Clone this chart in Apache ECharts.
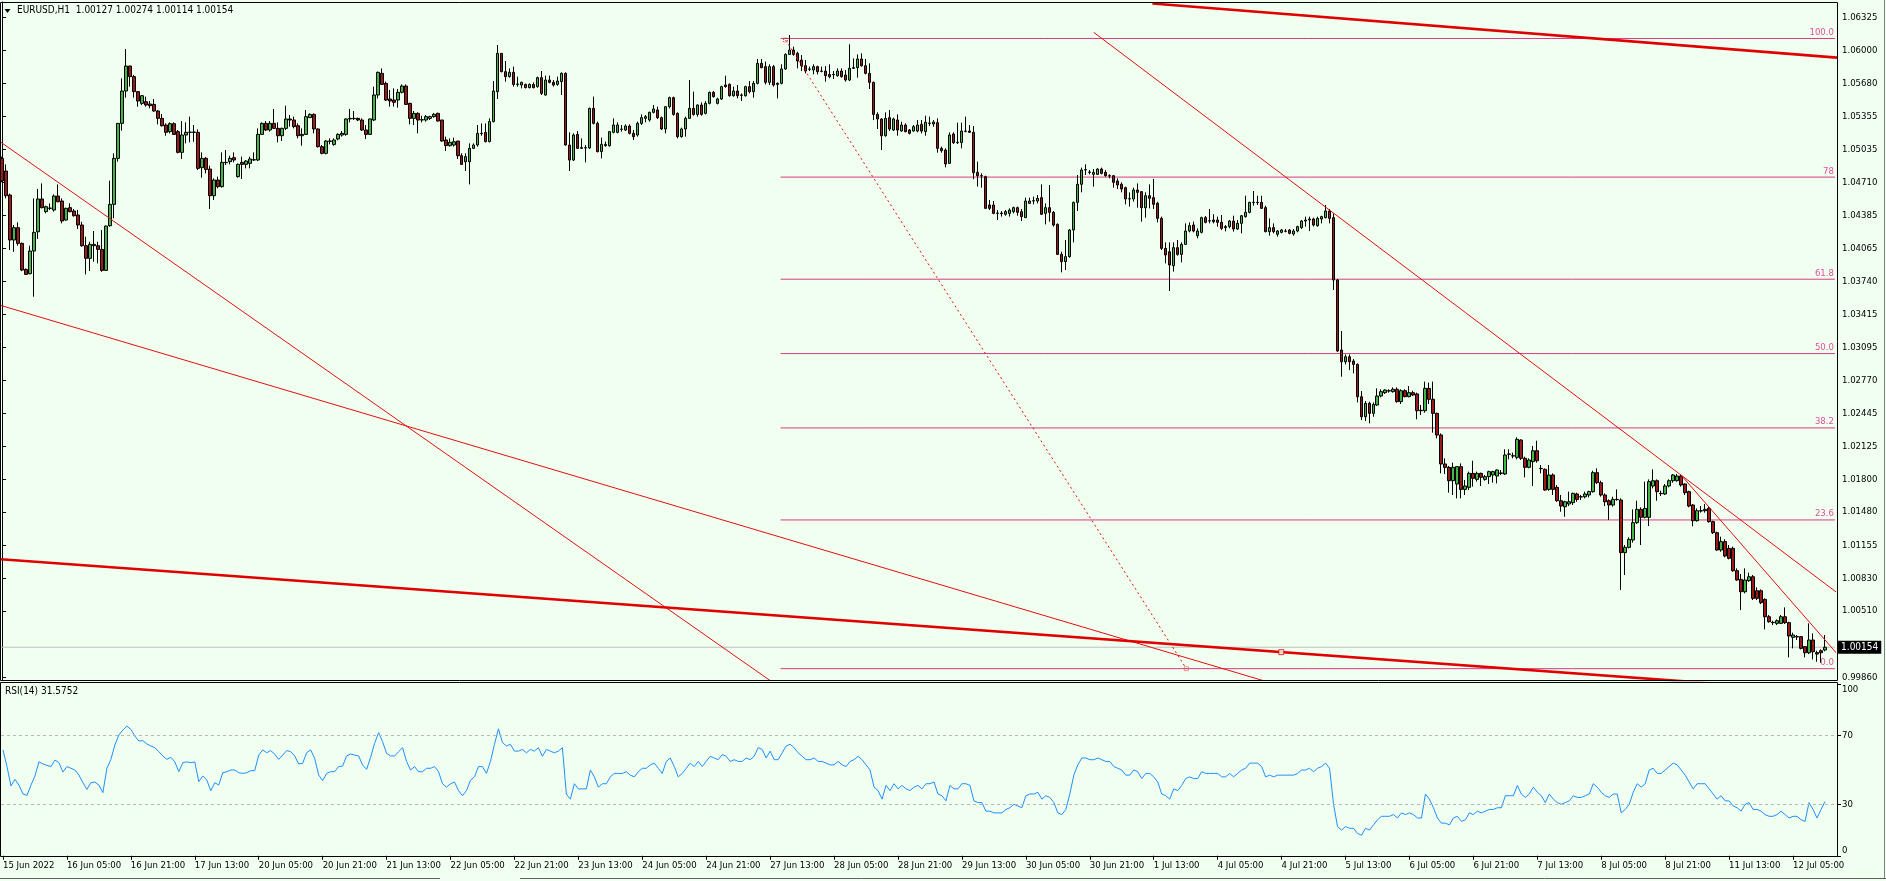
<!DOCTYPE html>
<html><head><meta charset="utf-8">
<script src="https://cdn.jsdelivr.net/npm/echarts@6/dist/echarts.min.js"></script>
<style>html,body{margin:0;padding:0;background:#f0fff0;}#c{width:1886px;height:881px;}</style>
</head><body><div id="c"></div>
<script>
const symbolName = 'EURUSD,H1';
const xLabels = ['15 Jun 2022','16 Jun 05:00','16 Jun 21:00','17 Jun 13:00','20 Jun 05:00','20 Jun 21:00','21 Jun 13:00','22 Jun 05:00','22 Jun 21:00','23 Jun 13:00','24 Jun 05:00','24 Jun 21:00','27 Jun 13:00','28 Jun 05:00','28 Jun 21:00','29 Jun 13:00','30 Jun 05:00','30 Jun 21:00','1 Jul 13:00','4 Jul 05:00','4 Jul 21:00','5 Jul 13:00','6 Jul 05:00','6 Jul 21:00','7 Jul 13:00','8 Jul 05:00','8 Jul 21:00','11 Jul 13:00','12 Jul 05:00'];
const yTicks = [1.06325,1.06000,1.05680,1.05355,1.05035,1.04710,1.04385,1.04065,1.03740,1.03415,1.03095,1.02770,1.02445,1.02125,1.01800,1.01480,1.01155,1.00830,1.00510,0.99860];
const rsiTicks = [0,30,70,100];
// [open, close, low, high]
const candles = [
[1.04945,1.04723,1.04710,1.04962],[1.04821,1.04579,1.04553,1.04886],[1.04586,1.04145,1.04047,1.04600],[1.04145,1.04266,1.04030,1.04292],[1.04266,1.04112,1.04089,1.04318],
[1.04112,1.03851,1.03840,1.04120],[1.03857,1.03808,1.03802,1.03867],[1.03815,1.04037,1.03808,1.04089],[1.04037,1.04220,1.03589,1.04553],[1.04226,1.04547,1.04155,1.04645],
[1.04547,1.04462,1.04455,1.04700],[1.04423,1.04471,1.04406,1.04481],[1.04455,1.04458,1.04439,1.04504],[1.04439,1.04576,1.04423,1.04592],[1.04576,1.04520,1.04515,1.04690],
[1.04527,1.04331,1.04308,1.04553],[1.04341,1.04455,1.04334,1.04462],[1.04462,1.04423,1.04416,1.04504],[1.04429,1.04383,1.04374,1.04449],[1.04390,1.04292,1.04253,1.04439],
[1.04292,1.04089,1.04079,1.04324],[1.04089,1.03965,1.03808,1.04177],[1.03965,1.04102,1.03841,1.04128],[1.04102,1.04089,1.03932,1.04233],[1.04089,1.04053,1.03916,1.04128],
[1.04053,1.03847,1.03834,1.04243],[1.03847,1.04282,1.03841,1.04285],[1.04285,1.04494,1.04275,1.04726],[1.04494,1.04945,1.04357,1.04994],[1.04945,1.05288,1.04913,1.05290],
[1.05288,1.05605,1.05216,1.05729],[1.05605,1.05850,1.05540,1.06017],[1.05850,1.05746,1.05648,1.05853],[1.05746,1.05599,1.05540,1.05762],[1.05599,1.05507,1.05452,1.05605],
[1.05484,1.05559,1.05468,1.05566],[1.05501,1.05468,1.05452,1.05550],[1.05478,1.05461,1.05435,1.05507],[1.05474,1.05409,1.05403,1.05527],[1.05409,1.05337,1.05278,1.05419],
[1.05337,1.05265,1.05256,1.05380],[1.05272,1.05200,1.05167,1.05288],[1.05207,1.05285,1.05190,1.05298],[1.05285,1.05180,1.05174,1.05298],[1.05207,1.05004,1.04994,1.05223],
[1.05004,1.05174,1.04939,1.05311],[1.05174,1.05200,1.05092,1.05298],[1.05200,1.05203,1.05102,1.05354],[1.05203,1.05200,1.05108,1.05272],[1.05200,1.04847,1.04831,1.05229],
[1.04854,1.04945,1.04756,1.05004],[1.04945,1.04837,1.04798,1.04958],[1.04840,1.04579,1.04449,1.04873],[1.04579,1.04733,1.04537,1.04749],[1.04733,1.04668,1.04651,1.04766],
[1.04668,1.04906,1.04658,1.05004],[1.04906,1.04903,1.04880,1.05027],[1.04913,1.04945,1.04886,1.04971],[1.04952,1.04929,1.04906,1.05004],[1.04766,1.04886,1.04756,1.04896],
[1.04906,1.04886,1.04743,1.04962],[1.04886,1.04919,1.04847,1.04929],[1.04896,1.04939,1.04847,1.04962],[1.04929,1.04932,1.04919,1.05004],[1.04929,1.05180,1.04919,1.05239],
[1.05180,1.05288,1.05174,1.05298],[1.05288,1.05223,1.05213,1.05311],[1.05223,1.05288,1.05207,1.05311],[1.05288,1.05239,1.05233,1.05429],[1.05239,1.05167,1.05102,1.05298],
[1.05167,1.05239,1.05115,1.05246],[1.05239,1.05331,1.05223,1.05461],[1.05331,1.05321,1.05256,1.05370],[1.05321,1.05256,1.05239,1.05354],[1.05265,1.05167,1.05141,1.05288],
[1.05167,1.05180,1.05069,1.05239],[1.05180,1.05354,1.05174,1.05419],[1.05344,1.05376,1.05344,1.05386],[1.05376,1.05233,1.05190,1.05386],[1.05233,1.05060,1.05050,1.05239],
[1.05060,1.04994,1.04984,1.05076],[1.04994,1.05115,1.04984,1.05125],[1.05115,1.05112,1.05082,1.05141],[1.05082,1.05125,1.05069,1.05141],[1.05135,1.05180,1.05122,1.05190],
[1.05174,1.05190,1.05158,1.05213],[1.05180,1.05331,1.05167,1.05337],[1.05331,1.05337,1.05298,1.05429],[1.05337,1.05334,1.05321,1.05409],[1.05337,1.05321,1.05311,1.05344],
[1.05321,1.05223,1.05213,1.05337],[1.05223,1.05180,1.05135,1.05272],[1.05180,1.05331,1.05174,1.05337],[1.05321,1.05566,1.05311,1.05648],[1.05566,1.05788,1.05533,1.05795],
[1.05778,1.05670,1.05664,1.05827],[1.05680,1.05517,1.05507,1.05697],[1.05527,1.05507,1.05452,1.05615],[1.05517,1.05494,1.05452,1.05631],[1.05517,1.05592,1.05442,1.05625],
[1.05592,1.05654,1.05582,1.05670],[1.05654,1.05474,1.05468,1.05670],[1.05484,1.05337,1.05278,1.05490],[1.05337,1.05386,1.05272,1.05409],[1.05386,1.05321,1.05190,1.05396],
[1.05321,1.05324,1.05298,1.05363],[1.05321,1.05354,1.05305,1.05370],[1.05337,1.05354,1.05321,1.05363],[1.05354,1.05376,1.05344,1.05390],[1.05386,1.05311,1.05305,1.05393],
[1.05321,1.05115,1.05108,1.05321],[1.05125,1.05070,1.05017,1.05158],[1.05070,1.05102,1.05060,1.05141],[1.05076,1.05108,1.05060,1.05148],[1.05115,1.04971,1.04939,1.05115],
[1.04971,1.04886,1.04880,1.04994],[1.04912,1.04962,1.04821,1.04994],[1.04912,1.05043,1.04690,1.05092],[1.05043,1.05076,1.05037,1.05092],[1.05076,1.05190,1.05060,1.05272],
[1.05190,1.05187,1.05167,1.05288],[1.05200,1.05109,1.05102,1.05288],[1.05109,1.05305,1.05102,1.05337],[1.05305,1.05605,1.05298,1.05703],[1.05599,1.05974,1.05527,1.06056],
[1.05974,1.05795,1.05788,1.05977],[1.05795,1.05746,1.05697,1.05899],[1.05746,1.05788,1.05736,1.05827],[1.05788,1.05670,1.05648,1.05844],[1.05670,1.05674,1.05648,1.05746],
[1.05664,1.05690,1.05631,1.05697],[1.05670,1.05638,1.05631,1.05677],[1.05638,1.05670,1.05631,1.05680],[1.05670,1.05638,1.05631,1.05690],[1.05648,1.05736,1.05638,1.05746],
[1.05736,1.05582,1.05566,1.05801],[1.05566,1.05713,1.05559,1.05756],[1.05713,1.05690,1.05680,1.05756],[1.05690,1.05664,1.05648,1.05713],[1.05670,1.05703,1.05657,1.05746],
[1.05697,1.05778,1.05566,1.05788],[1.05778,1.05076,1.05070,1.05788],[1.05076,1.04929,1.04821,1.05200],[1.04929,1.05174,1.04919,1.05190],[1.05180,1.05043,1.05037,1.05213],
[1.05043,1.05050,1.05037,1.05141],[1.05050,1.05047,1.04906,1.05076],[1.05047,1.05435,1.05037,1.05442],[1.05435,1.05288,1.05278,1.05550],[1.05288,1.05011,1.05004,1.05305],
[1.05011,1.05082,1.04945,1.05148],[1.05069,1.05082,1.05060,1.05109],[1.05069,1.05207,1.05060,1.05213],[1.05200,1.05272,1.05190,1.05337],[1.05200,1.05272,1.05190,1.05298],
[1.05229,1.05232,1.05207,1.05272],[1.05223,1.05262,1.05213,1.05278],[1.05262,1.05190,1.05180,1.05278],[1.05190,1.05158,1.05125,1.05223],[1.05174,1.05288,1.05158,1.05305],
[1.05288,1.05344,1.05272,1.05376],[1.05337,1.05354,1.05298,1.05370],[1.05321,1.05396,1.05305,1.05403],[1.05396,1.05429,1.05386,1.05468],[1.05419,1.05344,1.05331,1.05452],
[1.05344,1.05233,1.05223,1.05354],[1.05233,1.05452,1.05190,1.05458],[1.05452,1.05540,1.05435,1.05550],[1.05540,1.05376,1.05363,1.05550],[1.05386,1.05158,1.05141,1.05396],
[1.05158,1.05233,1.05148,1.05246],[1.05233,1.05337,1.05158,1.05354],[1.05337,1.05435,1.05331,1.05713],[1.05435,1.05376,1.05363,1.05599],[1.05376,1.05468,1.05354,1.05474],
[1.05468,1.05376,1.05363,1.05494],[1.05386,1.05484,1.05376,1.05507],[1.05484,1.05592,1.05474,1.05599],[1.05592,1.05550,1.05540,1.05605],[1.05484,1.05527,1.05474,1.05539],
[1.05527,1.05648,1.05517,1.05657],[1.05664,1.05648,1.05638,1.05755],[1.05670,1.05559,1.05550,1.05680],[1.05559,1.05605,1.05550,1.05648],[1.05605,1.05559,1.05533,1.05664],
[1.05566,1.05563,1.05507,1.05582],[1.05559,1.05648,1.05550,1.05657],[1.05648,1.05599,1.05582,1.05703],[1.05599,1.05680,1.05540,1.05703],[1.05680,1.05876,1.05670,1.05919],
[1.05876,1.05834,1.05827,1.05919],[1.05844,1.05690,1.05670,1.05893],[1.05690,1.05844,1.05664,1.05867],[1.05844,1.05664,1.05648,1.05860],[1.05680,1.05670,1.05533,1.05690],
[1.05680,1.05821,1.05670,1.05867],[1.05821,1.05964,1.05811,1.05974],[1.05964,1.06007,1.05958,1.06154],[1.06007,1.05964,1.05951,1.06040],[1.05974,1.05899,1.05827,1.05990],
[1.05909,1.05853,1.05801,1.05958],[1.05853,1.05801,1.05778,1.05909],[1.05820,1.05818,1.05801,1.05844],[1.05811,1.05844,1.05768,1.05867],[1.05844,1.05795,1.05768,1.05853],
[1.05801,1.05798,1.05788,1.05844],[1.05801,1.05755,1.05697,1.05850],[1.05768,1.05746,1.05730,1.05867],[1.05768,1.05765,1.05723,1.05801],[1.05755,1.05801,1.05746,1.05827],
[1.05801,1.05746,1.05736,1.05827],[1.05762,1.05713,1.05697,1.05811],[1.05713,1.05827,1.05703,1.06063],[1.05827,1.05834,1.05821,1.05925],[1.05834,1.05919,1.05736,1.05964],
[1.05919,1.05853,1.05844,1.05974],[1.05853,1.05778,1.05768,1.05919],[1.05778,1.05690,1.05625,1.05876],[1.05690,1.05376,1.05320,1.05697],[1.05376,1.05331,1.05233,1.05396],
[1.05331,1.05167,1.05027,1.05337],[1.05167,1.05337,1.05158,1.05396],[1.05344,1.05233,1.05213,1.05419],[1.05223,1.05331,1.05213,1.05344],[1.05321,1.05223,1.05167,1.05376],
[1.05213,1.05272,1.05207,1.05305],[1.05272,1.05207,1.05200,1.05288],[1.05223,1.05190,1.05180,1.05233],[1.05213,1.05256,1.05207,1.05272],[1.05213,1.05272,1.05200,1.05321],
[1.05278,1.05213,1.05190,1.05321],[1.05207,1.05298,1.05167,1.05363],[1.05288,1.05291,1.05262,1.05354],[1.05282,1.05301,1.05255,1.05320],[1.05295,1.05043,1.05001,1.05337],
[1.05043,1.05020,1.05001,1.05060],[1.05027,1.04890,1.04857,1.05043],[1.04896,1.05174,1.04890,1.05200],[1.05184,1.05099,1.05086,1.05200],[1.05099,1.05102,1.05086,1.05295],
[1.05099,1.05213,1.05043,1.05295],[1.05213,1.05210,1.05200,1.05354],[1.05213,1.05200,1.05197,1.05272],[1.05200,1.04805,1.04740,1.05262],[1.04808,1.04775,1.04668,1.04913],
[1.04775,1.04772,1.04658,1.04798],[1.04766,1.04455,1.04449,1.04775],[1.04488,1.04455,1.04439,1.04537],[1.04488,1.04406,1.04397,1.04527],[1.04406,1.04409,1.04341,1.04439],
[1.04409,1.04403,1.04374,1.04429],[1.04397,1.04423,1.04383,1.04439],[1.04406,1.04439,1.04374,1.04455],[1.04423,1.04462,1.04406,1.04472],[1.04462,1.04416,1.04383,1.04472],
[1.04423,1.04374,1.04331,1.04449],[1.04364,1.04527,1.04364,1.04560],[1.04504,1.04527,1.04504,1.04560],[1.04527,1.04530,1.04494,1.04570],[1.04527,1.04553,1.04504,1.04586],
[1.04560,1.04397,1.04390,1.04690],[1.04406,1.04462,1.04298,1.04504],[1.04462,1.04416,1.04325,1.04684],[1.04416,1.04292,1.04276,1.04429],[1.04298,1.04004,1.03998,1.04308],
[1.04004,1.03933,1.03828,1.04030],[1.03933,1.03982,1.03851,1.04145],[1.03982,1.04243,1.03972,1.04253],[1.04243,1.04514,1.04122,1.04521],[1.04514,1.04691,1.04429,1.04782],
[1.04691,1.04831,1.04612,1.04854],[1.04831,1.04834,1.04782,1.04887],[1.04808,1.04811,1.04788,1.04831],[1.04788,1.04808,1.04668,1.04840],[1.04788,1.04840,1.04782,1.04847],
[1.04840,1.04798,1.04788,1.04854],[1.04808,1.04775,1.04766,1.04830],[1.04775,1.04772,1.04749,1.04788],[1.04775,1.04710,1.04658,1.04782],[1.04723,1.04684,1.04645,1.04749],
[1.04691,1.04645,1.04612,1.04710],[1.04658,1.04547,1.04494,1.04668],[1.04547,1.04550,1.04472,1.04612],[1.04547,1.04635,1.04521,1.04658],[1.04635,1.04612,1.04462,1.04700],
[1.04619,1.04462,1.04325,1.04625],[1.04462,1.04579,1.04364,1.04612],[1.04579,1.04553,1.04455,1.04690],[1.04560,1.04495,1.04449,1.04743],[1.04504,1.04357,1.04318,1.04520],
[1.04357,1.04063,1.04047,1.04374],[1.04063,1.03998,1.03916,1.04122],[1.04030,1.03900,1.03645,1.04122],[1.03893,1.04070,1.03835,1.04122],[1.04070,1.04004,1.03991,1.04145],
[1.04004,1.04102,1.03926,1.04122],[1.04102,1.04233,1.04096,1.04308],[1.04233,1.04285,1.04220,1.04318],[1.04292,1.04233,1.04220,1.04325],[1.04187,1.04233,1.04161,1.04259],
[1.04220,1.04364,1.04210,1.04374],[1.04364,1.04318,1.04308,1.04380],[1.04331,1.04334,1.04308,1.04449],[1.04341,1.04325,1.04308,1.04397],[1.04341,1.04318,1.04276,1.04374],
[1.04318,1.04259,1.04243,1.04390],[1.04276,1.04266,1.04230,1.04292],[1.04276,1.04331,1.04259,1.04341],[1.04331,1.04253,1.04227,1.04383],[1.04253,1.04308,1.04243,1.04341],
[1.04308,1.04383,1.04210,1.04390],[1.04374,1.04416,1.04364,1.04579],[1.04416,1.04514,1.04406,1.04520],[1.04514,1.04511,1.04481,1.04625],[1.04511,1.04514,1.04488,1.04579],
[1.04514,1.04455,1.04449,1.04579],[1.04462,1.04227,1.04220,1.04481],[1.04227,1.04266,1.04187,1.04357],[1.04266,1.04227,1.04210,1.04308],[1.04201,1.04233,1.04178,1.04243],
[1.04220,1.04243,1.04210,1.04253],[1.04233,1.04230,1.04220,1.04253],[1.04243,1.04210,1.04201,1.04253],[1.04204,1.04233,1.04187,1.04253],[1.04233,1.04276,1.04220,1.04285],
[1.04266,1.04331,1.04253,1.04341],[1.04331,1.04341,1.04276,1.04374],[1.04341,1.04351,1.04233,1.04374],[1.04351,1.04292,1.04276,1.04364],[1.04285,1.04357,1.04276,1.04374],
[1.04351,1.04374,1.04308,1.04383],[1.04364,1.04429,1.04357,1.04488],[1.04429,1.04357,1.04308,1.04449],[1.04364,1.03753,1.03655,1.04406],[1.03753,1.03057,1.03050,1.03763],
[1.03067,1.02952,1.02805,1.03253],[1.02952,1.03001,1.02926,1.03024],[1.03001,1.02952,1.02870,1.03024],[1.02959,1.02926,1.02838,1.02979],[1.02926,1.02609,1.02554,1.02936],
[1.02609,1.02413,1.02380,1.02665],[1.02413,1.02544,1.02371,1.02567],[1.02544,1.02446,1.02348,1.02560],[1.02446,1.02534,1.02413,1.02554],[1.02528,1.02616,1.02518,1.02691],
[1.02616,1.02659,1.02603,1.02682],[1.02649,1.02675,1.02636,1.02682],[1.02668,1.02665,1.02649,1.02682],[1.02659,1.02682,1.02649,1.02701],[1.02682,1.02561,1.02551,1.02701],
[1.02561,1.02668,1.02538,1.02682],[1.02668,1.02610,1.02603,1.02682],[1.02610,1.02649,1.02603,1.02714],[1.02649,1.02626,1.02616,1.02668],[1.02636,1.02472,1.02388,1.02649],
[1.02472,1.02476,1.02430,1.02528],[1.02472,1.02691,1.02453,1.02757],[1.02691,1.02584,1.02538,1.02747],[1.02584,1.02446,1.02257,1.02757],[1.02446,1.02234,1.02201,1.02453],
[1.02234,1.01950,1.01858,1.02250],[1.01950,1.01917,1.01852,1.02005],[1.01917,1.01786,1.01669,1.01930],[1.01786,1.01917,1.01646,1.01963],[1.01754,1.01924,1.01613,1.01930],
[1.01924,1.01701,1.01613,1.01956],[1.01701,1.01734,1.01646,1.01793],[1.01721,1.01858,1.01695,1.01875],[1.01858,1.01809,1.01728,1.01982],[1.01799,1.01858,1.01777,1.01875],
[1.01858,1.01819,1.01734,1.01865],[1.01799,1.01826,1.01786,1.01842],[1.01826,1.01875,1.01754,1.01884],[1.01842,1.01875,1.01767,1.01884],[1.01832,1.01891,1.01760,1.01897],
[1.01858,1.01862,1.01842,1.01891],[1.01852,1.02038,1.01842,1.02094],[1.02048,1.02045,1.01995,1.02094],[1.02028,1.02031,1.02005,1.02061],[1.02015,1.02192,1.01995,1.02211],
[1.02185,1.02005,1.01989,1.02192],[1.02005,1.01917,1.01819,1.02022],[1.01917,1.01989,1.01907,1.02005],[1.01973,1.02080,1.01734,1.02126],[1.02080,1.01982,1.01963,1.02178],
[1.01907,1.01904,1.01858,1.01940],[1.01897,1.01695,1.01688,1.01907],[1.01701,1.01842,1.01688,1.01940],[1.01842,1.01701,1.01646,1.01858],[1.01721,1.01590,1.01580,1.01744],
[1.01590,1.01538,1.01482,1.01646],[1.01531,1.01580,1.01433,1.01590],[1.01558,1.01580,1.01538,1.01679],[1.01571,1.01662,1.01548,1.01669],[1.01656,1.01603,1.01580,1.01669],
[1.01629,1.01626,1.01597,1.01646],[1.01629,1.01656,1.01613,1.01679],[1.01646,1.01679,1.01623,1.01688],[1.01679,1.01865,1.01669,1.01884],[1.01865,1.01767,1.01754,1.01907],
[1.01767,1.01646,1.01630,1.01786],[1.01646,1.01580,1.01538,1.01662],[1.01590,1.01548,1.01401,1.01603],[1.01548,1.01603,1.01531,1.01629],[1.01603,1.01600,1.01590,1.01701],
[1.01597,1.01081,1.00715,1.01613],[1.01081,1.01133,1.00862,1.01156],[1.01133,1.01211,1.01123,1.01231],[1.01205,1.01375,1.01179,1.01505],[1.01375,1.01505,1.01362,1.01590],
[1.01505,1.01427,1.01156,1.01525],[1.01427,1.01515,1.01417,1.01777],[1.01427,1.01777,1.01342,1.01799],[1.01734,1.01786,1.01711,1.01897],[1.01786,1.01679,1.01590,1.01799],
[1.01662,1.01659,1.01636,1.01688],[1.01656,1.01734,1.01646,1.01754],[1.01734,1.01786,1.01721,1.01799],[1.01786,1.01842,1.01767,1.01852],[1.01786,1.01832,1.01777,1.01852],
[1.01832,1.01744,1.01728,1.01852],[1.01754,1.01669,1.01646,1.01760],[1.01679,1.01538,1.01525,1.01688],[1.01548,1.01394,1.01340,1.01558],[1.01394,1.01492,1.01385,1.01515],
[1.01492,1.01489,1.01473,1.01538],[1.01492,1.01505,1.01473,1.01558],[1.01515,1.01385,1.01375,1.01531],[1.01385,1.01277,1.01264,1.01394],[1.01277,1.01107,1.01100,1.01287],
[1.01107,1.01189,1.01090,1.01238],[1.01189,1.01048,1.01035,1.01212],[1.01123,1.01025,1.01015,1.01156],[1.01123,1.00904,1.00894,1.01140],[1.00904,1.00813,1.00806,1.00927],
[1.00819,1.00698,1.00519,1.00872],[1.00698,1.00813,1.00682,1.00927],[1.00806,1.00845,1.00796,1.00885],[1.00845,1.00633,1.00617,1.00862],[1.00708,1.00633,1.00617,1.00741],
[1.00708,1.00591,1.00577,1.00721],[1.00623,1.00453,1.00329,1.00633],[1.00453,1.00404,1.00395,1.00470],[1.00398,1.00395,1.00372,1.00414],[1.00388,1.00414,1.00372,1.00427],
[1.00388,1.00453,1.00382,1.00470],[1.00453,1.00395,1.00382,1.00545],[1.00395,1.00264,1.00055,1.00404],[1.00251,1.00274,1.00143,1.00297],[1.00258,1.00255,1.00225,1.00274],
[1.00258,1.00143,1.00133,1.00264],[1.00160,1.00100,1.00055,1.00166],[1.00100,1.00225,1.00087,1.00388],[1.00225,1.00110,1.00035,1.00290],[1.00101,1.00087,1.00012,1.00120],
[1.00120,1.00100,1.00002,1.00133],[1.00127,1.00154,1.00114,1.00274]
];
const rsi = [
61.7,52,40.7,44.5,41.2,36,35.2,41.2,46.5,54.8, 53.5,52.7,52,55.8,54.3,48.8,52,51,50,47.1,
42.6,38.7,42.6,43,41.2,36.8,51,56.2,64.6,70.4, 73.3,75.6,73.7,69.8,66.9,67.1,65.2,64,63,60.7,
58.2,56.2,57.4,54.8,49,54.3,54.7,54.3,54.7,43.2, 46.5,44.2,37.9,42.6,41.2,48.4,49,50,50,48.4,
48,48.4,49.6,49.6,58.7,61.7,60.1,61.3,59.3,56.2, 58.7,61.3,60.7,58.2,53.5,53.9,60.1,61.7,56.8,47.1,
43.8,48,49,49,52,52.3,58.2,59.3,58.7,58.2, 52.9,50.4,57.4,65.5,71.8,66.5,59.7,58.2,58.2,60.7,
63,55,50,52,49,49,51,51,52,49, 42,40,42,43,38,35,38,44,46,52,
52,48,55,65,74,66,64,65,61,61, 62,60,62,61,63,58,62,61,60,61,
63,36,33,42,39,39,39,50,46,40, 42,42,46,48,48,48,49,47,46,49,
51,51,53,54,51,48,55,57,52,46, 48,51,54,52,55,52,55,58,57,56,
59,58,55,56,55,55,57,56,58,63, 62,57,61,56,56,60,64,65,63,60,
58,56,56,57,55,55,54,53,53,55, 53,52,55,56,58,56,53,50,40,38,
33,41,38,42,39,41,39,38,40,41, 39,42,42,43,36,35,32,41,39,39,
42,42,41,32,31,31,26,26,25,25, 25,27,28,30,29,28,35,36,36,37,
33,35,34,31,25,24,27,36,47,53, 57,57,56,56,57,56,55,55,52,51,
50,47,47,50,49,45,48,48,46,43, 36,35,33,39,38,41,45,46,45,45,
49,48,48,48,48,46,46,48,46,48, 50,51,54,54,54,52,46,47,46,47,
47,47,47,47,48,50,50,51,49,51, 52,54,51,30,17,15,17,16,16,13,
12,16,15,18,21,23,23,23,24,22, 25,24,25,24,22,22,36,33,28,22,
19,19,18,22,23,20,21,25,24,26, 25,26,27,27,28,28,35,35,35,41,
36,34,36,40,37,35,31,36,33,31, 30,31,32,35,34,34,35,36,42,40,
37,35,34,36,36,25,27,30,37,42, 40,42,50,51,48,48,50,52,54,53,
50,47,43,39,42,42,42,39,36,33, 35,32,32,29,28,26,30,31,27,27,
26,24,23,23,24,26,24,22,23,23, 21,20,31,27,22,27,31.5752
];
// Fibonacci retracement
const fibLevels = [0,23.6,38.2,50,61.8,78,100];
const fibLabels = ['0.0','23.6','38.2','50.0','61.8','78','100.0'];
const fibLow = 0.99944, fibHigh = 1.06120, fibStartBar = 194.75;
const fibAnchor = [[196,1.06105],[296.25,0.99944]];
// trend lines [[bar, price],[bar, price]]
const thinLines = [
  [[-0.25,1.05102],[200,0.99612]],
  [[-0.25,1.03503],[349.75,0.99428]],
  [[273.08,1.06180],[459,1.00689]],
  [[420.2,1.01832],[458.9,1.00095]]
];
const thickLines = [
  [[-0.25,1.01016],[449.75,0.99738]],
  [[287.75,1.06462],[459,1.05932]]
];
const lineMarker = [[320,1.00106]];

const NB = 459;
const cats = Array.from({length: NB}, (_, i) => i);
const yMin = 0.99833, yMax = 1.064774;
const FONT = "'DejaVu Sans Condensed','DejaVu Sans',sans-serif";
const FS = 9.5;
const last = candles[candles.length - 1];
const lastClose = last[1];
const every16 = (idx) => idx % 16 === 0 && idx / 16 < xLabels.length;

const series = [];
series.push({type: 'line', xAxisIndex: 1, yAxisIndex: 0, silent: true, symbol: 'circle', symbolSize: 0.1, z: 1,
  lineStyle: {color: '#c0c0c0', width: 1}, itemStyle: {color: 'transparent'},
  data: [[-0.5, lastClose], {value: [458.5, lastClose], label: {show: true, position: 'right', distance: 3,
    formatter: () => lastClose.toFixed(5), backgroundColor: '#000', color: '#fff', padding: [2, 3, 1, 3],
    fontFamily: FONT, fontSize: 10}}]});
series.push({
  type: 'candlestick', xAxisIndex: 0, yAxisIndex: 0, data: candles, barWidth: 3, z: 3,
  itemStyle: {color: '#45b545', color0: '#9a1a1a', borderColor: '#000', borderColor0: '#000', borderWidth: 1}
});
fibLevels.forEach((lv, k) => {
  const p = fibLow + (fibHigh - fibLow) * lv / 100;
  series.push({type: 'line', xAxisIndex: 1, yAxisIndex: 0, silent: true, symbol: 'circle', symbolSize: 0.1, z: 2,
    lineStyle: {color: '#d93a86', width: 1}, itemStyle: {color: 'transparent'},
    data: [[fibStartBar, p], {value: [458.5, p], label: {show: true, position: 'left', distance: 1, offset: [0, -6],
      formatter: fibLabels[k], color: '#e0509a', fontFamily: FONT, fontSize: FS}}]});
});
series.push({type: 'line', xAxisIndex: 1, yAxisIndex: 0, silent: true, symbol: 'none', clip: true, z: 4,
  lineStyle: {color: '#e01010', width: 1, type: [2, 3]}, data: fibAnchor});
series.push({type: 'scatter', xAxisIndex: 1, yAxisIndex: 0, silent: true, symbol: 'rect', symbolSize: 4, z: 5,
  itemStyle: {color: 'transparent', borderColor: '#e01010', borderWidth: 1, borderType: [1, 1]}, data: fibAnchor});
thinLines.forEach(l => series.push({type: 'line', xAxisIndex: 1, yAxisIndex: 0, silent: true, symbol: 'none', clip: true, z: 4,
  lineStyle: {color: '#e01010', width: 1}, data: l}));
thickLines.forEach(l => series.push({type: 'line', xAxisIndex: 1, yAxisIndex: 0, silent: true, symbol: 'none', clip: true, z: 4,
  lineStyle: {color: '#e00000', width: 2.6}, data: l}));
series.push({type: 'scatter', xAxisIndex: 1, yAxisIndex: 0, silent: true, symbol: 'rect', symbolSize: 5, z: 5,
  itemStyle: {color: '#f0fff0', borderColor: '#e00000', borderWidth: 1}, data: lineMarker});
series.push({type: 'line', xAxisIndex: 2, yAxisIndex: 2, silent: true, symbol: 'none', data: rsi,
  lineStyle: {color: '#1e90ff', width: 1},
  markLine: {silent: true, symbol: 'none', animation: false, label: {show: false},
    lineStyle: {color: '#b8b8b8', type: [3, 3], width: 1}, data: [{yAxis: 70}, {yAxis: 30}]}});

const labelBase = {fontFamily: FONT, fontSize: FS, color: '#000'};
const option = {
  animation: false,
  backgroundColor: '#f0fff0',
  grid: [
    {left: -1, top: 2, width: 1836, height: 678},
    {left: -1, top: 684.25, width: 1836, height: 171.5}
  ],
  xAxis: [
    {type: 'category', gridIndex: 0, data: cats, show: false},
    {type: 'value', gridIndex: 0, min: -0.5, max: 458.5, show: false},
    {type: 'category', gridIndex: 1, data: cats,
      axisLine: {show: false},
      axisTick: {show: true, alignWithLabel: true, interval: every16, length: 4, lineStyle: {color: '#000'}},
      axisLabel: Object.assign({interval: every16, align: 'left', margin: 5,
        formatter: (v, idx) => (idx % 16 === 0 ? (xLabels[idx / 16] || '') : '')}, labelBase)}
  ],
  yAxis: [
    {type: 'value', gridIndex: 0, position: 'right', offset: 2, min: yMin, max: yMax,
      axisLine: {show: true, lineStyle: {color: '#000'}}, splitLine: {show: false},
      axisTick: {show: true, length: 4, customValues: yTicks, lineStyle: {color: '#000'}},
      axisLabel: Object.assign({customValues: yTicks, margin: 5, formatter: v => v.toFixed(5)}, labelBase)},
    {type: 'value', gridIndex: 1, position: 'right', offset: 2, min: 0, max: 100,
      axisLine: {show: true, lineStyle: {color: '#000'}}, splitLine: {show: false},
      axisTick: {show: true, length: 4, customValues: rsiTicks, lineStyle: {color: '#000'}},
      axisLabel: Object.assign({customValues: [30, 70], margin: 5}, labelBase)},
    {type: 'value', gridIndex: 1, position: 'right', offset: 2, min: 0, max: 100,
      axisLine: {show: false}, splitLine: {show: false}, axisTick: {show: false},
      axisLabel: Object.assign({customValues: [100], margin: 5, verticalAlign: 'top'}, labelBase)},
    {type: 'value', gridIndex: 1, position: 'right', offset: 2, min: 0, max: 100,
      axisLine: {show: false}, splitLine: {show: false}, axisTick: {show: false},
      axisLabel: Object.assign({customValues: [0], margin: 5, verticalAlign: 'bottom'}, labelBase)}
  ],
  graphic: [
    {type: 'rect', silent: true, z: 100, shape: {x: 0.5, y: 2.5, width: 1837, height: 678}, style: {fill: 'none', stroke: '#000', lineWidth: 1}},
    {type: 'rect', silent: true, z: 100, shape: {x: 0.5, y: 682.5, width: 1837, height: 174}, style: {fill: 'none', stroke: '#000', lineWidth: 1}},
    {type: 'line', silent: true, shape: {x1: 1884.5, y1: 0, x2: 1884.5, y2: 878}, style: {stroke: '#808080', lineWidth: 1}},
    {type: 'line', silent: true, shape: {x1: 0, y1: 878.5, x2: 440, y2: 878.5}, style: {stroke: '#606060', lineWidth: 1}},
    {type: 'line', silent: true, shape: {x1: 520, y1: 878.5, x2: 1886, y2: 878.5}, style: {stroke: '#606060', lineWidth: 1}},
    {type: 'polygon', silent: true, shape: {points: [[4.5, 9], [10.5, 9], [7.5, 13]]}, style: {fill: '#000'}},
    {type: 'text', silent: true, left: 17, top: 5, style: {text: symbolName + '  ' + [last[0], last[3], last[2], last[1]].map(v => v.toFixed(5)).join(' '), font: '10px ' + FONT, fill: '#000'}},
    {type: 'text', silent: true, left: 5, top: 686, style: {text: 'RSI(14) ' + rsi[rsi.length - 1].toFixed(4), font: '10px ' + FONT, fill: '#000'}}
  ],
  series: series
};
const chart = echarts.init(document.getElementById('c'), null, {renderer: 'canvas'});
chart.setOption(option);
</script>
</body></html>
